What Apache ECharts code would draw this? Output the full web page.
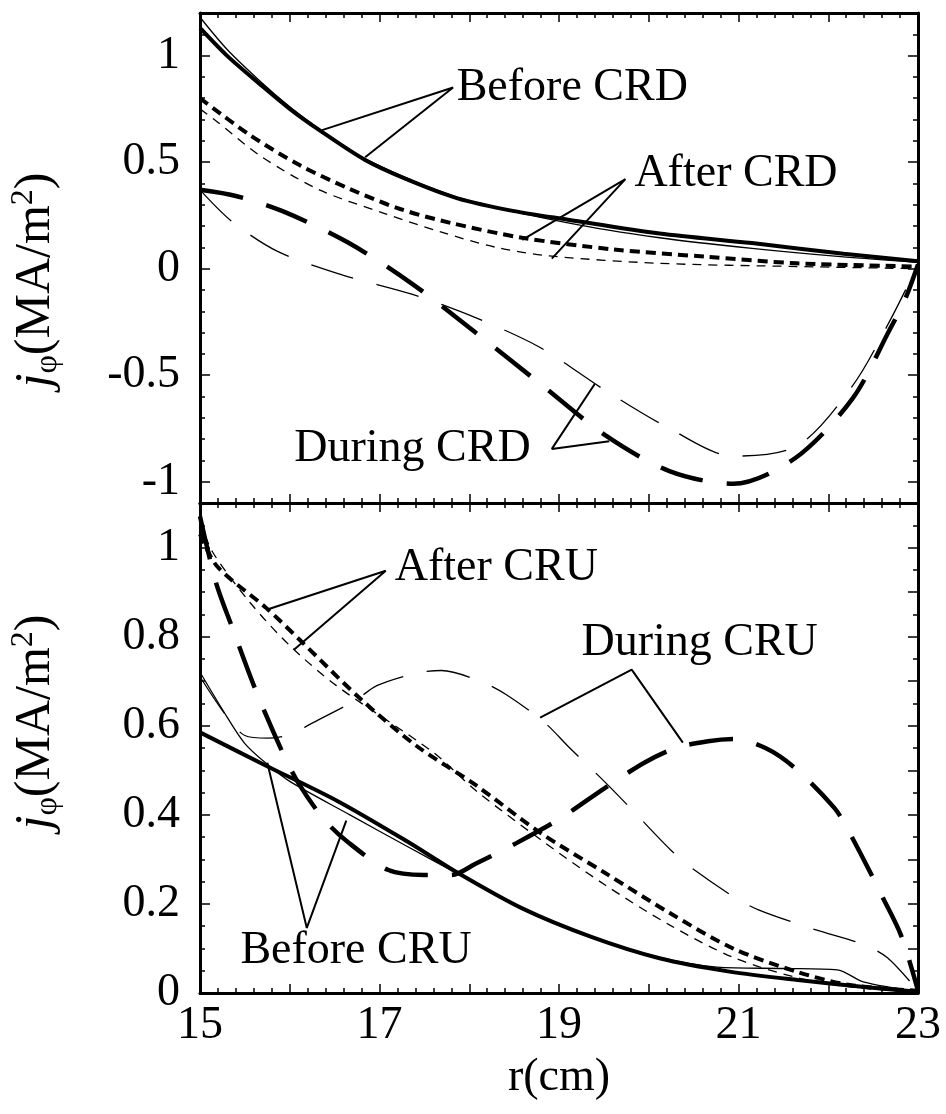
<!DOCTYPE html>
<html><head><meta charset="utf-8">
<script src="https://cdn.jsdelivr.net/npm/echarts@6/dist/echarts.min.js"></script>
<style>html,body{margin:0;padding:0;background:#fff}#c{width:946px;height:1114px}</style>
</head><body><div id="c"></div>
<script>
// ---------------- data (r in cm, j in MA/m^2) ----------------
const xTicks = [15, 17, 19, 21, 23];
const topYTicks = [-1, -0.5, 0, 0.5, 1];
const botYTicks = [0, 0.2, 0.4, 0.6, 0.8, 1];

// top panel
const beforeCRD_thick = [[15,1.13],[15.3,1.0],[15.67,0.865],[16,0.75],[16.33,0.65],[16.84,0.51],[17.3,0.42],[17.87,0.33],[18.5,0.27],[19.1,0.23],[20.12,0.165],[21.15,0.12],[22.17,0.07],[23,0.035]];
const beforeCRD_thin  = [[15,1.18],[15.3,1.03],[15.67,0.88],[16,0.76],[16.33,0.655],[16.84,0.515],[17.87,0.335],[19.1,0.215],[20.12,0.145],[21.15,0.095],[22.17,0.055],[23,0.03]];
const afterCRD_thick  = [[15,0.80],[15.56,0.626],[16.11,0.486],[16.67,0.374],[17.23,0.28],[17.79,0.215],[18.59,0.145],[19.61,0.09],[20.64,0.056],[21.66,0.025],[23,0.01]];
const afterCRD_thin   = [[15,0.75],[15.19,0.69],[15.67,0.53],[16.33,0.37],[17.05,0.26],[17.7,0.17],[18.3,0.10],[18.89,0.06],[20.12,0.025],[21.66,0.01],[23,0.0]];
const duringCRD_thick = [[15,0.37],[15.41,0.34],[15.92,0.27],[16.64,0.125],[17.36,-0.07],[18.07,-0.30],[18.79,-0.54],[19.51,-0.78],[20.23,-0.95],[20.94,-1.01],[21.63,-0.89],[22.27,-0.61],[22.68,-0.29],[22.85,-0.15],[23,0.02]];
const duringCRD_thin  = [[15,0.37],[15.36,0.22],[15.87,0.08],[16.59,-0.03],[17.36,-0.12],[18.07,-0.23],[18.79,-0.37],[19.51,-0.57],[20.23,-0.75],[20.94,-0.88],[21.66,-0.83],[22.27,-0.55],[22.68,-0.25],[23,0.02]];

// bottom panel
const beforeCRU_thick = [[15,0.585],[15.72,0.512],[16.54,0.43],[17.31,0.34],[17.87,0.27],[18.59,0.19],[19.36,0.126],[20.12,0.078],[20.9,0.048],[21.66,0.029],[22.43,0.013],[23,0.003]];
const beforeCRU_thin  = [[15,0.72],[15.3,0.62],[15.5,0.56],[15.74,0.515],[16.0,0.475],[16.67,0.40],[17.3,0.33],[17.87,0.268],[18.59,0.19],[19.36,0.125],[20.12,0.08],[20.76,0.058],[21.5,0.055],[22.1,0.052],[22.39,0.025],[23,0.003]];
const afterCRU_thick  = [[15,1.03],[15.19,0.958],[15.74,0.864],[16.11,0.793],[16.79,0.66],[17.41,0.555],[18.07,0.467],[18.79,0.36],[19.51,0.27],[20.23,0.18],[20.94,0.10],[21.66,0.047],[22.24,0.018],[23,0.005]];
const afterCRU_thin   = [[15,1.06],[15.14,0.99],[15.56,0.876],[16.0,0.78],[16.52,0.69],[17.6,0.54],[18.07,0.455],[18.79,0.345],[19.51,0.243],[20.23,0.153],[20.94,0.08],[21.66,0.034],[22.27,0.013],[23,0.003]];
const duringCRU_thick = [[15,1.07],[15.18,0.92],[15.36,0.82],[15.62,0.68],[15.92,0.54],[16.1,0.47],[16.38,0.39],[16.64,0.34],[17.1,0.276],[17.5,0.265],[17.8,0.265],[18.07,0.29],[18.53,0.337],[19.0,0.39],[19.51,0.46],[19.95,0.517],[20.3,0.55],[20.66,0.565],[20.95,0.57],[21.3,0.55],[21.63,0.505],[22.07,0.415],[22.22,0.366],[22.47,0.27],[22.58,0.225],[22.81,0.13],[23,0.005]];
const duringCRU_thin  = [[15,0.71],[15.3,0.62],[15.5,0.578],[15.75,0.572],[16.0,0.58],[16.26,0.607],[16.74,0.658],[16.97,0.69],[17.41,0.718],[17.69,0.724],[18.12,0.70],[18.41,0.67],[18.84,0.607],[19.12,0.55],[19.51,0.474],[19.82,0.41],[20.25,0.32],[20.51,0.276],[20.97,0.213],[21.23,0.186],[21.69,0.153],[21.94,0.137],[22.4,0.108],[22.66,0.079],[23,0.005]];

// annotation texts and leader lines (data coordinates)
const annotations = [
  {panel:0, text:'Before CRD', at:[17.86, 0.85],  leader:[[16.36,0.65],[17.82,0.85],[16.84,0.523]]},
  {panel:0, text:'After CRD',  at:[19.84, 0.444], leader:[[18.59,0.135],[19.74,0.42],[18.92,0.047]]},
  {panel:0, text:'During CRD', at:[16.05,-0.846], leader:[[19.40,-0.54],[18.92,-0.846],[19.56,-0.81]]},
  {panel:1, text:'After CRU',  at:[17.17, 0.955], leader:[[15.75,0.861],[17.07,0.948],[16.05,0.771]]},
  {panel:1, text:'During CRU', at:[19.25, 0.787], leader:[[18.79,0.618],[19.81,0.726],[20.38,0.562]]},
  {panel:1, text:'Before CRU', at:[15.45, 0.094], leader:[[15.75,0.517],[16.19,0.146],[16.63,0.387]]}
];

// ---------------- chart ----------------
const FONT = '"Liberation Serif","Times New Roman",serif';
const FS = 46;
const BLACK = '#000';
const chart = echarts.init(document.getElementById('c'), null, {renderer:'canvas'});

function xAx(grid, pos, showLabels, name) {
  return {
    type:'value', gridIndex:grid, position:pos, min:15, max:23, interval:1,
    axisLine:{show:true, onZero:false, lineStyle:{color:BLACK, width:3}},
    axisTick:{show:true, inside:true, length:9, lineStyle:{color:BLACK, width:1.5}},
    minorTick:{show:true, splitNumber:5, length:5, lineStyle:{color:BLACK, width:1.5}},
    splitLine:{show:false}, minorSplitLine:{show:false},
    axisLabel:{show:showLabels, margin:10, color:BLACK, fontFamily:FONT, fontSize:FS,
      formatter: v => { const r = Math.round(v); return xTicks.indexOf(r) >= 0 ? String(r) : ''; }},
    name: name || '', nameLocation:'middle', nameGap:62, nameMoveOverlap:false,
    nameTextStyle:{color:BLACK, fontFamily:FONT, fontSize:FS, verticalAlign:'top'}
  };
}
function yMinor(grid, pos, min, max, step) {
  return {
    type:'value', gridIndex:grid, position:pos, min:min, max:max, interval:step,
    axisLine:{show:true, onZero:false, lineStyle:{color:BLACK, width:3}},
    axisTick:{show:true, inside:true, length:5, lineStyle:{color:BLACK, width:1.5}},
    splitLine:{show:false}, axisLabel:{show:false}
  };
}
function yMajor(grid, pos, min, max, vals, showLabels) {
  return {
    type:'value', gridIndex:grid, position:pos, min:min, max:max,
    axisLine:{show:false, onZero:false},
    axisTick:{show:true, inside:true, length:10, customValues:vals, lineStyle:{color:BLACK, width:1.5}},
    splitLine:{show:false},
    axisLabel:{show:showLabels, customValues:vals, margin:20, color:BLACK, fontFamily:FONT, fontSize:FS}
  };
}

const THICK = 4, THIN = 1.3;
const styles = {
  solidThick: {width:THICK, type:'solid'},
  solidThin:  {width:THIN, type:'solid'},
  dotThick:   {width:THICK, type:[10,6]},
  dotThin:    {width:THIN, type:[9,7]},
  dashThick:  {width:4.5, type:[44,24]},
  dashThin:   {width:THIN, type:[44,24]}
};
function curve(data, st, panel) {
  return {
    type:'line', xAxisIndex: panel === 0 ? 0 : 2, yAxisIndex: panel === 0 ? 0 : 4,
    data:data, showSymbol:false, symbol:'none', smooth:0.3,
    lineStyle:Object.assign({color:BLACK}, styles[st]), silent:true, z:3
  };
}

const series = [
  curve(beforeCRD_thin,'solidThin',0), curve(beforeCRD_thick,'solidThick',0),
  curve(afterCRD_thin,'dotThin',0), curve(afterCRD_thick,'dotThick',0),
  curve(duringCRD_thin,'dashThin',0), curve(duringCRD_thick,'dashThick',0),
  curve(beforeCRU_thin,'solidThin',1), curve(beforeCRU_thick,'solidThick',1),
  curve(afterCRU_thin,'dotThin',1), curve(afterCRU_thick,'dotThick',1),
  curve(duringCRU_thin,'dashThin',1), curve(duringCRU_thick,'dashThick',1)
];
annotations.forEach(a => {
  const xi = a.panel === 0 ? 0 : 2, yi = a.panel === 0 ? 0 : 4;
  series.push({type:'line', xAxisIndex:xi, yAxisIndex:yi, data:a.leader, showSymbol:false, symbol:'none',
    lineStyle:{color:BLACK, width:2}, silent:true, z:4});
  series.push({type:'scatter', xAxisIndex:xi, yAxisIndex:yi, data:[a.at], symbolSize:0,
    itemStyle:{color:BLACK, opacity:1}, silent:true, z:5,
    label:{show:true, position:'right', distance:0, formatter:a.text, color:BLACK, opacity:1,
      textBorderWidth:0, fontFamily:FONT, fontSize:FS}});
});

const TFS = 50;
const yTitleRich = {
  j:{fontFamily:FONT, fontSize:TFS, fontStyle:'italic', fill:BLACK, lineHeight:56, verticalAlign:'middle'},
  s:{fontFamily:FONT, fontSize:32, fill:BLACK, lineHeight:32, verticalAlign:'bottom'},
  t:{fontFamily:FONT, fontSize:TFS, fill:BLACK, lineHeight:56, verticalAlign:'middle'},
  p:{fontFamily:FONT, fontSize:32, fill:BLACK, lineHeight:32, verticalAlign:'top'}
};
function yTitle(x, y) {
  return {type:'text', x:x, y:y, rotation:Math.PI/2, silent:true,
    style:{text:'{j|j}{s|φ}{t|(MA/m}{p|2}{t|)}', rich:yTitleRich, align:'center', verticalAlign:'middle', fill:BLACK}};
}

chart.setOption({
  backgroundColor:'#fff',
  animation:false,
  grid:[
    {left:200, width:718, top:13, height:490, containLabel:false, outerBoundsMode:'none'},
    {left:200, width:718, top:503, height:490, containLabel:false, outerBoundsMode:'none'}
  ],
  xAxis:[
    xAx(0,'bottom',false), xAx(0,'top',false),
    xAx(1,'bottom',true,'r(cm)'), xAx(1,'top',false)
  ],
  yAxis:[
    yMinor(0,'left',-1.1,1.2,0.1), yMajor(0,'left',-1.1,1.2,topYTicks,true),
    yMinor(0,'right',-1.1,1.2,0.1), yMajor(0,'right',-1.1,1.2,topYTicks,false),
    yMinor(1,'left',0,1.1,0.05), yMajor(1,'left',0,1.1,botYTicks,true),
    yMinor(1,'right',0,1.1,0.05), yMajor(1,'right',0,1.1,[0,0.1,0.2,0.3,0.4,0.5,0.6,0.7,0.8,0.9,1.0],false)
  ],
  graphic:[yTitle(36, 280), yTitle(36, 722)],
  series:series
});
</script>
</body></html>
